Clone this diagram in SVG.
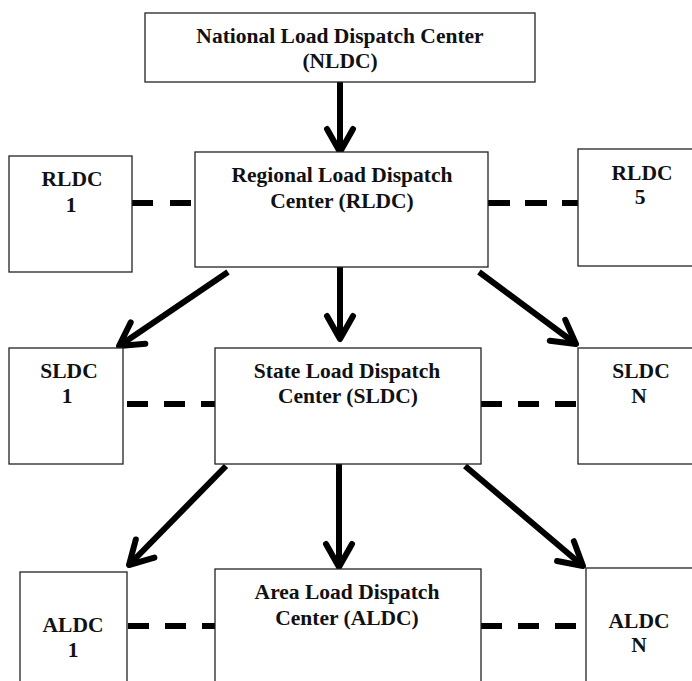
<svg xmlns="http://www.w3.org/2000/svg" width="692" height="681" viewBox="0 0 692 681">
<style>
.box{fill:#fff;stroke:#222;stroke-width:1.3}
.t{font-family:"Liberation Serif","Times New Roman",serif;font-weight:bold;font-size:21.5px;text-anchor:middle;fill:#111}
.arr{stroke:#000;stroke-width:6;fill:none;marker-end:url(#head)}
.dash{stroke:#000;stroke-width:6;fill:none;stroke-dasharray:21 16}
</style>
<defs>
<marker id="head" markerUnits="userSpaceOnUse" viewBox="-30 -20 40 40" markerWidth="40" markerHeight="40" refX="0" refY="0" orient="auto">
<path d="M-23,-13 L0,0 L-23,13" fill="none" stroke="#000" stroke-width="6" stroke-linecap="round" stroke-linejoin="round"/>
</marker>
</defs>
<rect width="692" height="681" fill="#fff"/>
<g id="connectors">
<line class="arr" x1="340" y1="82" x2="340" y2="152"/>
<line class="arr" x1="228" y1="272" x2="119" y2="346"/>
<line class="arr" x1="340" y1="267" x2="340" y2="339"/>
<line class="arr" x1="479" y1="272" x2="576" y2="344"/>
<line class="arr" x1="226" y1="466" x2="129" y2="565"/>
<line class="arr" x1="339" y1="464" x2="339" y2="567"/>
<line class="arr" x1="465" y1="466" x2="583" y2="566"/>
<line class="dash" x1="132" y1="203" x2="195" y2="203" style="stroke-dasharray:21 17"/>
<line class="dash" x1="488" y1="203" x2="578" y2="203" style="stroke-dasharray:22 15"/>
<line class="dash" x1="127" y1="404" x2="215" y2="404"/>
<line class="dash" x1="481" y1="404" x2="578" y2="404"/>
<line class="dash" x1="128" y1="626" x2="215" y2="626"/>
<line class="dash" x1="481" y1="626" x2="577" y2="626"/>
</g>
<g id="nldc">
<rect class="box" x="145" y="13" width="390" height="69"/>
<text class="t" x="340" y="43">National Load Dispatch Center</text>
<text class="t" x="340" y="68">(NLDC)</text>
</g>
<g id="rldc">
<rect class="box" x="195" y="152" width="293" height="115"/>
<text class="t" x="342" y="182">Regional Load Dispatch</text>
<text class="t" x="342" y="208">Center (RLDC)</text>
</g>
<g id="rldc1">
<rect class="box" x="9" y="156" width="123" height="116"/>
<text class="t" x="72" y="186">RLDC</text>
<text class="t" x="71" y="212">1</text>
</g>
<g id="rldc5">
<rect class="box" x="578" y="149" width="130" height="117"/>
<text class="t" x="642" y="180">RLDC</text>
<text class="t" x="640" y="204">5</text>
</g>
<g id="sldc">
<rect class="box" x="215" y="348" width="266" height="116"/>
<text class="t" x="347" y="378">State Load Dispatch</text>
<text class="t" x="348" y="403">Center (SLDC)</text>
</g>
<g id="sldc1">
<rect class="box" x="9" y="348" width="114" height="116"/>
<text class="t" x="69" y="378">SLDC</text>
<text class="t" x="67" y="403">1</text>
</g>
<g id="sldcn">
<rect class="box" x="578" y="348" width="130" height="116"/>
<text class="t" x="641" y="378">SLDC</text>
<text class="t" x="639" y="403">N</text>
</g>
<g id="aldc">
<rect class="box" x="215" y="569" width="266" height="130"/>
<text class="t" x="347" y="599">Area Load Dispatch</text>
<text class="t" x="347" y="625">Center (ALDC)</text>
</g>
<g id="aldc1">
<rect class="box" x="20" y="572" width="107" height="130"/>
<text class="t" x="73" y="632">ALDC</text>
<text class="t" x="73" y="657">1</text>
</g>
<g id="aldcn">
<rect class="box" x="586" y="568" width="130" height="130"/>
<text class="t" x="639" y="628">ALDC</text>
<text class="t" x="639" y="652">N</text>
</g>
</svg>
